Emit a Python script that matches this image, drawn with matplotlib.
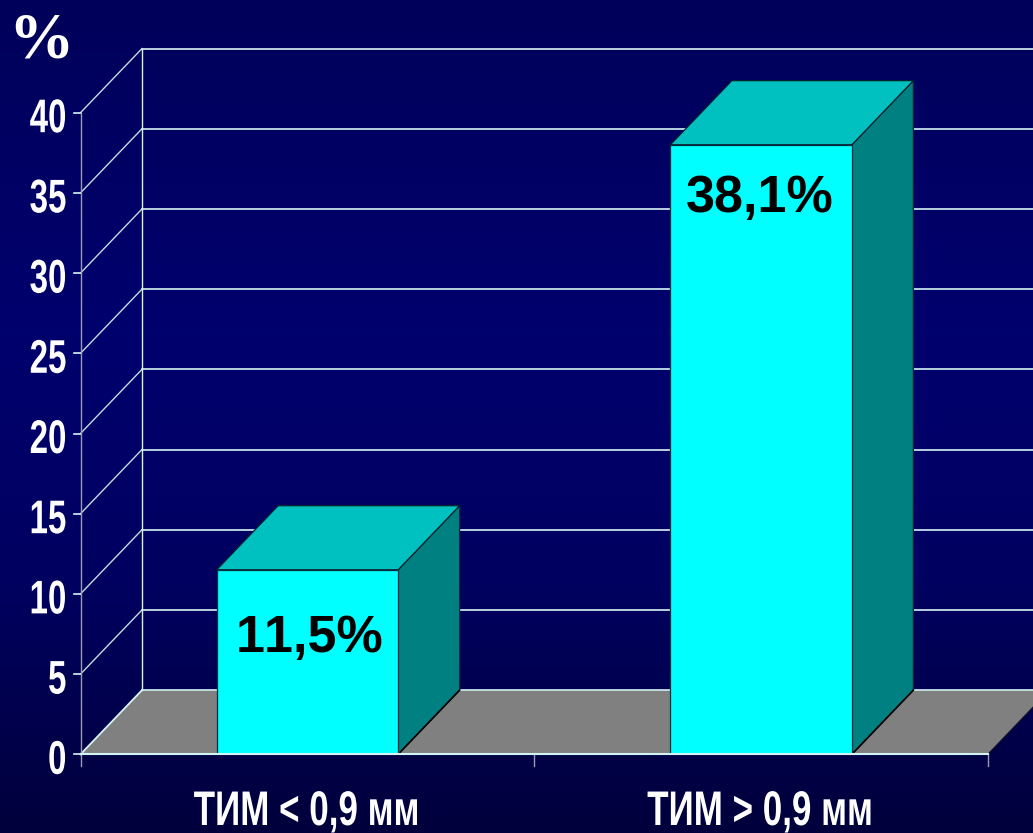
import numpy as np
import matplotlib
matplotlib.use("Agg")
import matplotlib.pyplot as plt
from matplotlib.colors import LinearSegmentedColormap
from matplotlib.patches import Polygon
from matplotlib.patheffects import AbstractPathEffect
from matplotlib.transforms import Affine2D

plt.rcParams["text.kerning_factor"] = 6

categories = ["ТИМ < 0,9 мм", "ТИМ > 0,9 мм"]
bar_heights = [11.5, 38.0]
value_labels = ["11,5%", "38,1%"]
y_ticks = [0, 5, 10, 15, 20, 25, 30, 35, 40]


class Squeeze(AbstractPathEffect):
    """Narrow a text horizontally about a fixed device x (no condensed font is installed)."""
    def __init__(self, cx, sx):
        super().__init__()
        self.cx, self.sx = cx, sx

    def draw_path(self, renderer, gc, tpath, affine, rgbFace=None):
        t = affine + Affine2D().translate(-self.cx, 0).scale(self.sx, 1).translate(self.cx, 0)
        renderer.draw_path(gc, tpath, t, rgbFace)


W, H = 1033, 833
fig = plt.figure(figsize=(W / 100, H / 100), dpi=100)
ax = fig.add_axes([0, 0, 1, 1])
ax.axis("off")

# pixel anchors of the chart's scales
x_px0, x_px2 = 80.5, 988.0
y_px0, y_px40 = 754.3, 112.7
xu = (x_px2 - x_px0) / 2
yu = (y_px0 - y_px40) / 40
ax.set_xlim(-x_px0 / xu, (W - x_px0) / xu)
ax.set_ylim((y_px0 - H) / yu, y_px0 / yu)
xlim, ylim = ax.get_xlim(), ax.get_ylim()
px_x, px_y = 1 / xu, 1 / yu

cmap = LinearSegmentedColormap.from_list(
    "bg", [(0, "#00005a"), (0.4, "#00006e"), (0.7, "#000060"), (1, "#00003c")])
ax.imshow(np.linspace(0, 1, 256)[:, None], cmap=cmap, aspect="auto",
          extent=[xlim[0], xlim[1], ylim[0], ylim[1]], origin="upper", zorder=0)

dx, dy = 61.5 * px_x, 4.0
grid = "#d4f4f4"

ax.add_patch(Polygon([(0, 0), (2, 0), (2 + dx, dy), (dx, dy)], fc="#808080", ec="none", zorder=1))
ax.plot([0, dx], [0, dy], color=grid, lw=1.3, zorder=2)
ax.plot([2, 2 + dx], [0, dy], color="#101030", lw=1.0, zorder=2)
for v in y_ticks:
    ax.plot([dx, 2 + dx], [v + dy, v + dy], color=grid, lw=1.2, zorder=2)
    if v:
        ax.plot([0, dx], [v, v + dy], color="#c4dede", lw=1.0, zorder=2)
    ax.plot([-7 * px_x, 0], [v, v], color=grid, lw=1.2, zorder=2)
ax.plot([dx, dx], [dy, y_ticks[-1] + dy], color=grid, lw=1.0, zorder=2)
ax.plot([0, 0], [-12 * px_y, y_ticks[-1]], color="#9a9ab4", lw=1.0, zorder=2)
for x in [1, 2]:
    ax.plot([x, x], [-12 * px_y, 0], color="#9a9ab4", lw=1.0, zorder=2)
ax.plot([0, 2], [0, 0], color=grid, lw=1.5, zorder=6)

bw = 0.4
for i, h in enumerate(bar_heights):
    c = i + 0.5
    l, r = c - bw / 2, c + bw / 2
    ax.add_patch(Polygon([(r, 0), (r + dx, dy), (r + dx, h + dy), (r, h)],
                         fc="#008080", ec="#0a2a40", lw=0.9, zorder=3))
    ax.add_patch(Polygon([(l, h), (r, h), (r + dx, h + dy), (l + dx, h + dy)],
                         fc="#00c0c0", ec="#06202c", lw=0.9, zorder=4))
    ax.add_patch(Polygon([(l, 0), (r, 0), (r, h), (l, h)],
                         fc="#00ffff", ec="#0a2a40", lw=0.9, zorder=5))
    ax.plot([r, r + dx], [0, dy], color="black", lw=1.2, zorder=5)

tick_right_px = 66.5
for v in y_ticks:
    t = ax.text((tick_right_px - x_px0) / xu, v - 19.5 * px_y, str(v), color="white",
                ha="right", va="baseline", family="Liberation Sans", weight="bold",
                fontsize=34, zorder=7)
    t.set_path_effects([Squeeze(tick_right_px, 0.70)])

cat_centers_px = [306.5, 760.0]
for i, name in enumerate(categories):
    t = ax.text((cat_centers_px[i] - x_px0) / xu, (y_px0 - 825) / yu, name, color="white",
                ha="center", va="baseline", family="Liberation Sans", weight="bold",
                fontsize=35, zorder=7)
    t.set_path_effects([Squeeze(cat_centers_px[i], 0.72)])

label_base = [6.4, 33.8]
label_x = [0.505, 0.4975 + 1]
for i, s in enumerate(value_labels):
    ax.text(label_x[i], label_base[i], s, color="black", ha="center", va="baseline",
            family="Liberation Sans", weight="bold", fontsize=37.5, zorder=7)

ax.text((41 - x_px0) / xu, (y_px0 - 57) / yu, "%", color="white", ha="center", va="baseline",
        family="Liberation Serif", weight="bold", fontsize=47, zorder=7)

fig.savefig("out.png", dpi=100)
